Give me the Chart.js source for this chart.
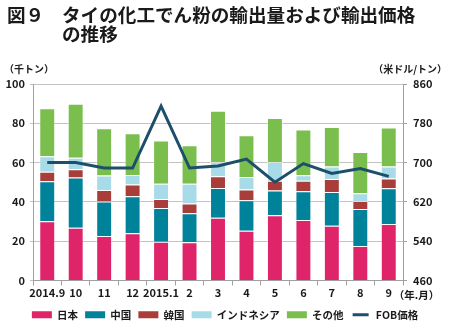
<!DOCTYPE html>
<html>
<head>
<meta charset="utf-8">
<script src="https://cdn.jsdelivr.net/npm/chart.js@4/dist/chart.umd.min.js"></script>
<style>
  html, body { margin: 0; padding: 0; background: #fff; }
  #wrap { position: relative; width: 450px; height: 332px; }
  #chart { position: absolute; left: 0; top: 0; }
  .ttl { position: absolute; font-family: "Noto Sans CJK JP", sans-serif; font-weight: bold;
         font-size: 18.6px; line-height: 19px; color: #1a1a1a; white-space: nowrap; }
</style>
</head>
<body>
<div id="wrap">
  <canvas id="chart" width="450" height="332"></canvas>
  <div class="ttl" style="left:7px; top:4px;">図９</div>
  <div class="ttl" style="left:62px; top:4px;">タイの化工でん粉の輸出量および輸出価格</div>
  <div class="ttl" style="left:62px; top:23px;">の推移</div>
</div>
<script>
// Months (year.month)
const months = ['2014.9', '10', '11', '12', '2015.1', '2', '3', '4', '5', '6', '7', '8', '9'];

// Export volume by destination (thousand tonnes)
const japan     = [30.2, 26.8, 22.7, 24.1, 19.7, 19.5, 31.9, 25.3, 33.2, 30.8, 27.8, 17.6, 28.8];
const china     = [20.3, 25.6, 17.5, 18.8, 17.2, 14.7, 15.2, 15.5, 12.6, 14.6, 17.3, 18.8, 18.1];
const korea     = [4.9, 4.2, 5.9, 5.9, 4.6, 5.0, 6.0, 5.5, 5.0, 5.3, 6.6, 4.1, 5.0];
const indonesia = [7.8, 5.9, 7.3, 4.9, 7.7, 10.1, 7.2, 6.4, 9.5, 2.9, 6.3, 3.9, 6.1];
const others    = [24.4, 27.5, 24.1, 21.2, 22.0, 19.5, 26.1, 21.2, 22.4, 23.2, 20.1, 21.0, 19.8];

// FOB export price (US$/tonne)
const fobPrice  = [700, 700, 689, 689, 815, 689, 693, 707, 660, 698, 678, 688, 672];

// Axis ticks
const volumeTicks = [0, 20, 40, 60, 80, 100];
const priceTicks  = [460, 540, 620, 700, 780, 860];

const FONT = '"Noto Sans CJK JP", "Noto Sans", sans-serif';
const TEXT = '#1a1a1a';
const GRID = '#c3c3c3';

function barSet(label, data, color) {
  return {
    type: 'bar', label, data, backgroundColor: color,
    borderColor: 'rgba(255,255,255,0.45)', borderWidth: 1,
    yAxisID: 'y', order: 1, stack: 'vol'
  };
}

// Unit captions around the plot
const unitLabels = {
  id: 'unitLabels',
  afterDraw(chart) {
    const { ctx, chartArea } = chart;
    ctx.save();
    ctx.fillStyle = TEXT;
    ctx.font = 'bold 10px ' + FONT;
    ctx.textBaseline = 'middle';
    ctx.textAlign = 'left';
    ctx.fillText('（千トン）', 4, chartArea.top - 15);
    ctx.textAlign = 'right';
    ctx.fillText('（米ドル/トン）', 447, chartArea.top - 15);
    ctx.textAlign = 'left';
    ctx.font = 'bold 10.5px ' + FONT;
    const xs = chart.scales.x;
    ctx.fillText('（年.月）', xs.getPixelForValue(12) + 5, chartArea.bottom + 15);
    ctx.restore();
  }
};

new Chart(document.getElementById('chart'), {
  data: {
    labels: months,
    datasets: [
      barSet('日本', japan, '#e0246a'),
      barSet('中国', china, '#00829b'),
      barSet('韓国', korea, '#a83d3a'),
      barSet('インドネシア', indonesia, '#a7dbe8'),
      barSet('その他', others, '#7abf4d'),
      {
        type: 'line', label: 'FOB価格', data: fobPrice, yAxisID: 'y2', order: 0,
        borderColor: '#1d4f6b', backgroundColor: '#1d4f6b', borderWidth: 3,
        pointRadius: 0, tension: 0, fill: false
      }
    ]
  },
  plugins: [unitLabels],
  options: {
    responsive: false,
    animation: false,
    layout: { padding: { left: 0, right: 0, top: 84, bottom: 2 } },
    plugins: {
      title: { display: false },
      tooltip: { enabled: false },
      legend: {
        position: 'bottom',
        labels: {
          boxWidth: 20, boxHeight: 7, padding: 7,
          color: TEXT, font: { family: FONT, size: 10.5, weight: 'bold' },
          sort: (a, b) => a.datasetIndex - b.datasetIndex,
          generateLabels(chart) {
            const items = Chart.defaults.plugins.legend.labels.generateLabels(chart);
            items.forEach(it => {
              if (it.datasetIndex === 5) {
                it.fillStyle = '#1d4f6b';
                it.strokeStyle = '#ffffff';
                it.lineWidth = 4;
              } else {
                it.lineWidth = 0;
              }
            });
            return items;
          }
        }
      }
    },
    scales: {
      x: {
        stacked: true,
        offset: true,
        grid: { display: true, offset: true, drawOnChartArea: false, color: '#a0a0a0', tickLength: 5 },
        border: { display: true, color: '#a0a0a0' },
        ticks: { color: TEXT, font: { family: FONT, size: 11, weight: 'bold' }, padding: 1, maxRotation: 0, autoSkip: false },
        afterFit(s) { s.height = 22; }
      },
      y: {
        stacked: true,
        position: 'left',
        min: 0, max: 100,
        afterBuildTicks(s) { s.ticks = volumeTicks.map(v => ({ value: v })); },
        grid: { color: GRID, tickLength: 3 },
        border: { display: true, color: '#a0a0a0' },
        ticks: { color: TEXT, font: { family: FONT, size: 11, weight: 'bold' }, padding: 5 },
        afterFit(s) { s.width = 33; }
      },
      y2: {
        position: 'right',
        min: 460, max: 860,
        afterBuildTicks(s) { s.ticks = priceTicks.map(v => ({ value: v })); },
        grid: { drawOnChartArea: false, color: '#a0a0a0', tickLength: 4 },
        border: { display: true, color: '#a0a0a0' },
        ticks: { color: TEXT, font: { family: FONT, size: 11, weight: 'bold' }, padding: 6 },
        afterFit(s) { s.width = 47; }
      }
    },
    datasets: { bar: { barPercentage: 0.56, categoryPercentage: 1.0 } }
  }
});
</script>
</body>
</html>
